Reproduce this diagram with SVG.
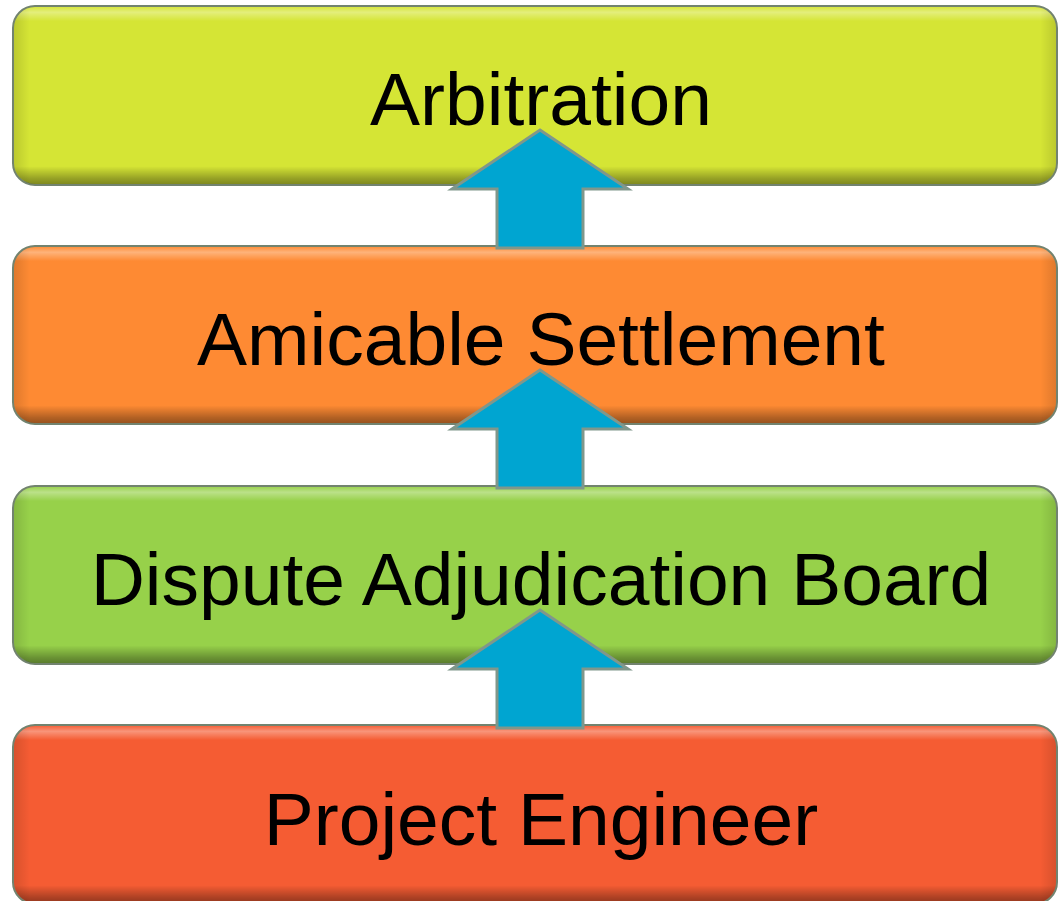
<svg xmlns="http://www.w3.org/2000/svg" width="1058" height="901" viewBox="0 0 1058 901">
<defs>
<linearGradient id="bevel" x1="0" y1="0" x2="0" y2="1">
<stop offset="0" stop-color="#ffffff" stop-opacity="0.05"/>
<stop offset="0.03" stop-color="#ffffff" stop-opacity="0.35"/>
<stop offset="0.08" stop-color="#ffffff" stop-opacity="0"/>
<stop offset="0.9" stop-color="#000000" stop-opacity="0"/>
<stop offset="0.97" stop-color="#000000" stop-opacity="0.3"/>
<stop offset="1" stop-color="#000000" stop-opacity="0.4"/>
</linearGradient>
<linearGradient id="side" x1="0" y1="0" x2="1" y2="0">
<stop offset="0" stop-color="#000000" stop-opacity="0.12"/>
<stop offset="0.015" stop-color="#000000" stop-opacity="0"/>
<stop offset="0.985" stop-color="#000000" stop-opacity="0"/>
<stop offset="1" stop-color="#000000" stop-opacity="0.12"/>
</linearGradient>
<style>
.box{stroke:#72836f;stroke-width:2}
.ov{fill:url(#bevel)}
.sd{fill:url(#side)}
.lbl{font-family:"Liberation Sans",Arial,sans-serif;font-size:75px;fill:#000;text-anchor:middle}
.arr{fill:#00a5d1;stroke:#80978b;stroke-width:3;stroke-linejoin:miter}
</style>
</defs>
<g id="node-arbitration">
<rect class="box" x="13" y="6" width="1044" height="179" rx="22" fill="#d5e535"/>
<rect class="ov" x="14" y="7" width="1042" height="177" rx="21"/>
<rect class="sd" x="14" y="7" width="1042" height="177" rx="21"/>
<text class="lbl" x="541" y="125">Arbitration</text>
</g>
<g id="node-amicable">
<rect class="box" x="13" y="246" width="1044" height="178" rx="22" fill="#fe8a33"/>
<rect class="ov" x="14" y="247" width="1042" height="176" rx="21"/>
<rect class="sd" x="14" y="247" width="1042" height="176" rx="21"/>
<text class="lbl" x="541" y="365">Amicable Settlement</text>
</g>
<g id="node-dab">
<rect class="box" x="13" y="486" width="1044" height="178" rx="22" fill="#97d14a"/>
<rect class="ov" x="14" y="487" width="1042" height="176" rx="21"/>
<rect class="sd" x="14" y="487" width="1042" height="176" rx="21"/>
<text class="lbl" x="541" y="605">Dispute Adjudication Board</text>
</g>
<g id="node-engineer">
<rect class="box" x="13" y="725" width="1044" height="179" rx="22" fill="#f55c33"/>
<rect class="ov" x="14" y="726" width="1042" height="177" rx="21"/>
<rect class="sd" x="14" y="726" width="1042" height="177" rx="21"/>
<text class="lbl" x="541" y="845">Project Engineer</text>
</g>
<g id="connectors">
<polygon class="arr" points="540,130 628,189 583,189 583,248 497,248 497,189 452,189"/>
<polygon class="arr" points="540,370 628,429 583,429 583,488 497,488 497,429 452,429"/>
<polygon class="arr" points="540,610 628,669 583,669 583,728 497,728 497,669 452,669"/>
</g>
</svg>
